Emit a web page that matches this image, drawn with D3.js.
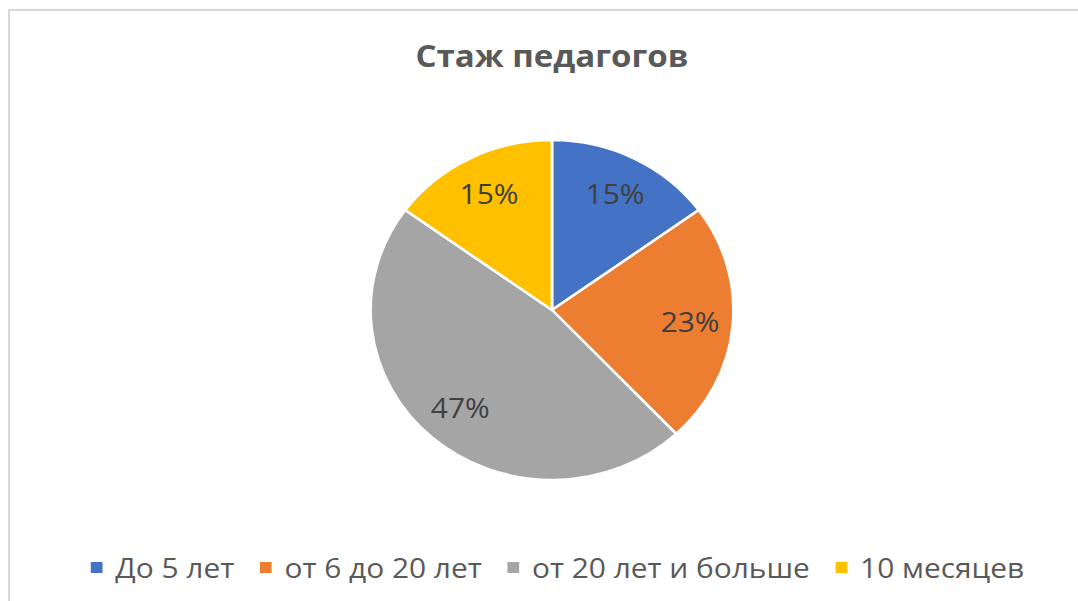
<!DOCTYPE html>
<html>
<head>
<meta charset="utf-8">
<script src="https://cdn.jsdelivr.net/npm/d3@7"></script>
<style>
  body { margin: 0; background: #fff; }
  svg { display: block; }
</style>
</head>
<body>
<svg id="chart" width="1078" height="601"></svg>
<script>
// data
let categories = ['До 5 лет', 'от 6 до 20 лет', 'от 20 лет и больше', '10 месяцев'];
let values = [15, 23, 47, 15];
let colors = ['#4472c4', '#ed7d31', '#a5a5a5', '#ffc000'];
let title = 'Стаж педагогов';

let svg = d3.select('#chart');
let W = 1078, H = 601;
let cx = 552, cy = 310, R = 170, sx = 1.067;
let fontFam = '"Open Sans", "Noto Sans", sans-serif';

// frame
svg.append('rect').attr('x', 0).attr('y', 0).attr('width', W).attr('height', H).attr('fill', '#fff');
svg.append('path')
  .attr('d', `M9,${H} V10 H${W}`)
  .attr('fill', 'none').attr('stroke', '#d9d9d9').attr('stroke-width', 2);

// title
svg.append('text')
  .attr('x', cx).attr('y', 67)
  .attr('text-anchor', 'middle')
  .attr('font-family', fontFam).attr('font-weight', 'bold').attr('font-size', 31)
  .attr('fill', '#595959')
  .attr('transform', `translate(${cx},0) scale(${sx},1) translate(${-cx},0)`)
  .text(title);

let tdata = categories.map((c, i) => ({cat: c, val: values[i], color: colors[i]}));
let pie = d3.pie().value(d => d.val).sort(null);
let arc = d3.arc().innerRadius(0).outerRadius(R);
let labelArc = d3.arc().innerRadius(130).outerRadius(130);
let total = d3.sum(values);

let g = svg.append('g').attr('transform', `translate(${cx},${cy}) scale(${sx},1)`);
let arcs = pie(tdata);
g.selectAll('path')
  .data(arcs)
  .join('path')
  .attr('d', arc)
  .attr('fill', d => d.data.color)
  .attr('stroke', '#fff').attr('stroke-width', 2.5).attr('stroke-linejoin', 'round');

g.selectAll('text')
  .data(arcs)
  .join('text')
  .attr('transform', d => `translate(${labelArc.centroid(d)})`)
  .attr('text-anchor', 'middle').attr('dy', '0.36em')
  .attr('font-family', fontFam).attr('font-size', 28)
  .attr('fill', '#404040')
  .text(d => Math.round(d.data.val / total * 100) + '%');

// legend
let lg = svg.append('g');
let items = lg.selectAll('g').data(tdata).join('g');
items.append('rect')
  .attr('width', 11).attr('height', 11).attr('y', -16)
  .attr('fill', d => d.color);
items.append('text')
  .attr('x', 23).attr('y', 0)
  .attr('font-family', fontFam).attr('font-size', 28)
  .attr('fill', '#595959')
  .text(d => d.cat);
let gap = 24;
let xpos = 0;
items.each(function () {
  let w = this.querySelector('text').getComputedTextLength() + 23;
  d3.select(this).attr('transform', `translate(${xpos},0)`);
  xpos += w + gap;
});
let lw = xpos - gap;
lg.attr('transform', `translate(${557.5 - lw * sx / 2},578) scale(${sx},1)`);
</script>
</body>
</html>
